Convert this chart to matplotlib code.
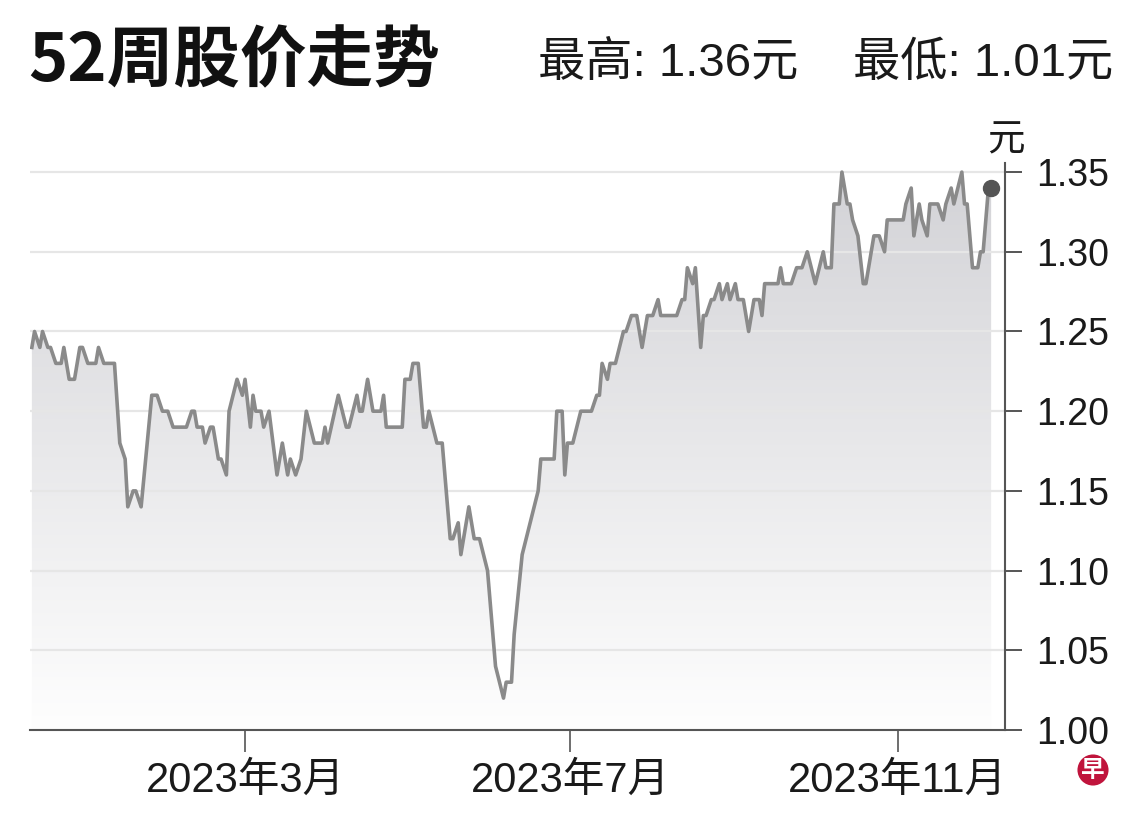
import matplotlib
matplotlib.use('Agg')
import matplotlib.pyplot as plt
import matplotlib.dates as mdates
from matplotlib.colors import LinearSegmentedColormap
import numpy as np
import pandas as pd

# ---------------- data ----------------
dates = [
    '2022-12-11', '2022-12-12', '2022-12-14', '2022-12-15', '2022-12-17', '2022-12-18',
    '2022-12-20', '2022-12-22', '2022-12-23', '2022-12-25', '2022-12-27', '2022-12-29',
    '2022-12-30', '2023-01-01', '2023-01-04', '2023-01-05', '2023-01-07', '2023-01-11',
    '2023-01-13', '2023-01-15', '2023-01-16', '2023-01-18', '2023-01-19', '2023-01-21',
    '2023-01-25', '2023-01-27', '2023-01-29', '2023-01-31', '2023-02-02', '2023-02-07',
    '2023-02-09', '2023-02-10', '2023-02-11', '2023-02-13', '2023-02-14', '2023-02-16',
    '2023-02-17', '2023-02-19', '2023-02-20', '2023-02-22', '2023-02-23', '2023-02-26',
    '2023-02-28', '2023-03-01', '2023-03-03', '2023-03-04', '2023-03-05', '2023-03-07',
    '2023-03-08', '2023-03-10', '2023-03-13', '2023-03-15', '2023-03-17', '2023-03-18',
    '2023-03-20', '2023-03-22', '2023-03-24', '2023-03-27', '2023-03-30', '2023-03-31',
    '2023-04-01', '2023-04-05', '2023-04-08', '2023-04-09', '2023-04-12', '2023-04-13',
    '2023-04-14', '2023-04-16', '2023-04-18', '2023-04-21', '2023-04-22', '2023-04-23',
    '2023-04-29', '2023-04-30', '2023-05-02', '2023-05-03', '2023-05-05', '2023-05-07',
    '2023-05-08', '2023-05-09', '2023-05-12', '2023-05-14', '2023-05-17', '2023-05-18',
    '2023-05-20', '2023-05-21', '2023-05-24', '2023-05-26', '2023-05-28', '2023-05-31',
    '2023-06-03', '2023-06-06', '2023-06-07', '2023-06-09', '2023-06-10', '2023-06-13',
    '2023-06-16', '2023-06-19', '2023-06-20', '2023-06-25', '2023-06-26', '2023-06-28',
    '2023-06-29', '2023-06-30', '2023-07-02', '2023-07-05', '2023-07-09', '2023-07-11',
    '2023-07-12', '2023-07-13', '2023-07-15', '2023-07-16', '2023-07-18', '2023-07-21',
    '2023-07-22', '2023-07-24', '2023-07-26', '2023-07-28', '2023-07-30', '2023-08-01',
    '2023-08-03', '2023-08-04', '2023-08-10', '2023-08-12', '2023-08-13', '2023-08-14',
    '2023-08-16', '2023-08-17', '2023-08-19', '2023-08-20', '2023-08-21', '2023-08-23',
    '2023-08-24', '2023-08-26', '2023-08-27', '2023-08-29', '2023-08-30', '2023-09-01',
    '2023-09-02', '2023-09-04', '2023-09-06', '2023-09-08', '2023-09-10', '2023-09-11',
    '2023-09-12', '2023-09-17', '2023-09-18', '2023-09-19', '2023-09-22', '2023-09-24',
    '2023-09-26', '2023-09-28', '2023-10-01', '2023-10-04', '2023-10-05', '2023-10-07',
    '2023-10-08', '2023-10-10', '2023-10-11', '2023-10-13', '2023-10-14', '2023-10-15',
    '2023-10-17', '2023-10-19', '2023-10-20', '2023-10-23', '2023-10-25', '2023-10-27',
    '2023-10-28', '2023-11-03', '2023-11-04', '2023-11-06', '2023-11-07', '2023-11-09',
    '2023-11-10', '2023-11-12', '2023-11-13', '2023-11-16', '2023-11-18', '2023-11-19',
    '2023-11-21', '2023-11-22', '2023-11-25', '2023-11-26', '2023-11-27', '2023-11-29',
    '2023-12-01', '2023-12-02', '2023-12-03', '2023-12-05', '2023-12-06',
]
prices = [
    1.24, 1.25, 1.24, 1.25, 1.24, 1.24,
    1.23, 1.23, 1.24, 1.22, 1.22, 1.24,
    1.24, 1.23, 1.23, 1.24, 1.23, 1.23,
    1.18, 1.17, 1.14, 1.15, 1.15, 1.14,
    1.21, 1.21, 1.20, 1.20, 1.19, 1.19,
    1.20, 1.20, 1.19, 1.19, 1.18, 1.19,
    1.19, 1.17, 1.17, 1.16, 1.20, 1.22,
    1.21, 1.22, 1.19, 1.21, 1.20, 1.20,
    1.19, 1.20, 1.16, 1.18, 1.16, 1.17,
    1.16, 1.17, 1.20, 1.18, 1.18, 1.19,
    1.18, 1.21, 1.19, 1.19, 1.21, 1.20,
    1.20, 1.22, 1.20, 1.20, 1.21, 1.19,
    1.19, 1.22, 1.22, 1.23, 1.23, 1.19,
    1.19, 1.20, 1.18, 1.18, 1.12, 1.12,
    1.13, 1.11, 1.14, 1.12, 1.12, 1.10,
    1.04, 1.02, 1.03, 1.03, 1.06, 1.11,
    1.13, 1.15, 1.17, 1.17, 1.20, 1.20,
    1.16, 1.18, 1.18, 1.20, 1.20, 1.21,
    1.21, 1.23, 1.22, 1.23, 1.23, 1.25,
    1.25, 1.26, 1.26, 1.24, 1.26, 1.26,
    1.27, 1.26, 1.26, 1.27, 1.27, 1.29,
    1.28, 1.29, 1.24, 1.26, 1.26, 1.27,
    1.27, 1.28, 1.27, 1.28, 1.27, 1.28,
    1.27, 1.27, 1.25, 1.27, 1.27, 1.26,
    1.28, 1.28, 1.29, 1.28, 1.28, 1.29,
    1.29, 1.30, 1.28, 1.30, 1.29, 1.29,
    1.33, 1.33, 1.35, 1.33, 1.33, 1.32,
    1.31, 1.28, 1.28, 1.31, 1.31, 1.30,
    1.32, 1.32, 1.33, 1.34, 1.31, 1.33,
    1.32, 1.31, 1.33, 1.33, 1.32, 1.33,
    1.34, 1.33, 1.35, 1.33, 1.33, 1.29,
    1.29, 1.30, 1.30, 1.34, 1.34,
]
y_ticks = [1.00, 1.05, 1.10, 1.15, 1.20, 1.25, 1.30, 1.35]
y_tick_labels = ['1.00', '1.05', '1.10', '1.15', '1.20', '1.25', '1.30', '1.35']
x_tick_dates = ['2023-03-01', '2023-07-01', '2023-11-01']
x_tick_labels = ['2023年3月', '2023年7月', '2023年11月']
title = '52周股价走势'
high_text = '最高: 1.36元'
low_text = '最低: 1.01元'
unit_text = '元'
logo_text = '早'

# ---------------- figure ----------------
W, H = 1140, 818
fig = plt.figure(figsize=(W / 100, H / 100), dpi=100)
fig.patch.set_facecolor('white')

ax_left, ax_right, ax_bottom, ax_top = 30, 1005, 730, 163
ax = fig.add_axes([ax_left / W, 1 - ax_bottom / H,
                   (ax_right - ax_left) / W, (ax_bottom - ax_top) / H])

xd = mdates.date2num(pd.to_datetime(dates))
yv = np.array(prices)

mar1 = mdates.date2num(pd.Timestamp('2023-03-01'))
nov1 = mdates.date2num(pd.Timestamp('2023-11-01'))
xmin, xmax = mar1 - 80.7, nov1 + 40.2
ymin, ymax = 1.0, 1.3557
ax.set_xlim(xmin, xmax)
ax.set_ylim(ymin, ymax)

# gradient fill under the line
poly = ax.fill_between(xd, yv, ymin, facecolor='none', edgecolor='none')
cmap = LinearSegmentedColormap.from_list('g', ['#fefefe', '#d3d3d7'])
grad = np.linspace(0, 1, 256).reshape(-1, 1)
im = ax.imshow(grad, extent=[xmin, xmax, ymin, 1.35], origin='lower',
               aspect='auto', cmap=cmap, zorder=1, interpolation='bicubic')
im.set_clip_path(poly.get_paths()[0], transform=ax.transData)

# gridlines
for t in y_ticks[1:]:
    ax.axhline(t, color='#e6e6e6', lw=1.6, zorder=2)

ax.plot(xd, yv, color='#8a8a8a', lw=2.6, zorder=3, solid_joinstyle='round')
ax.plot(xd[-1], yv[-1], 'o', color='#555555', ms=11.5, zorder=4)

# axes styling
for s in ['top', 'left']:
    ax.spines[s].set_visible(False)
for s in ['bottom', 'right']:
    ax.spines[s].set_color('#555555')
    ax.spines[s].set_linewidth(1.5)

ax.yaxis.tick_right()
ax.set_yticks(y_ticks)
ax.set_yticklabels(y_tick_labels)
ax.tick_params(axis='y', direction='out', length=12, width=1.4, color='#555555',
               pad=10.5, labelsize=27, labelcolor='#1a1a1a')
for lab in ax.get_yticklabels():
    lab.set_fontfamily(['Liberation Sans', 'DejaVu Sans'])

ax.set_xticks(mdates.date2num(pd.to_datetime(x_tick_dates)))
ax.set_xticklabels(x_tick_labels)
ax.tick_params(axis='x', direction='out', length=16, width=1.2, color='#555555',
               pad=6, labelsize=30, labelcolor='#1a1a1a')
for lab in ax.get_xticklabels():
    lab.set_fontfamily(['Liberation Sans', 'Noto Sans CJK SC'])

# texts
fig.text(28 / W, 1 - 62 / H, title, fontsize=48, fontweight='heavy',
         family=['Noto Sans CJK SC'], color='#111111', ha='left', va='center')
fig.text(538 / W, 1 - 64 / H, high_text, fontsize=34,
         family=['Liberation Sans', 'Noto Sans CJK SC'],
         color='#1a1a1a', ha='left', va='center')
fig.text(853 / W, 1 - 64 / H, low_text, fontsize=34,
         family=['Liberation Sans', 'Noto Sans CJK SC'],
         color='#1a1a1a', ha='left', va='center')
fig.text(1006 / W, 1 - 140 / H, unit_text, fontsize=27, family=['Noto Sans CJK SC'],
         color='#1a1a1a', ha='center', va='center')
fig.text(1093 / W, 1 - 770 / H, logo_text, fontsize=17, fontweight='bold',
         family=['Noto Sans CJK SC'], color='white', ha='center', va='center',
         bbox=dict(boxstyle='circle,pad=0.15', fc='#c0143c', ec='none'))

fig.savefig('out.png', dpi=100, facecolor='white')
